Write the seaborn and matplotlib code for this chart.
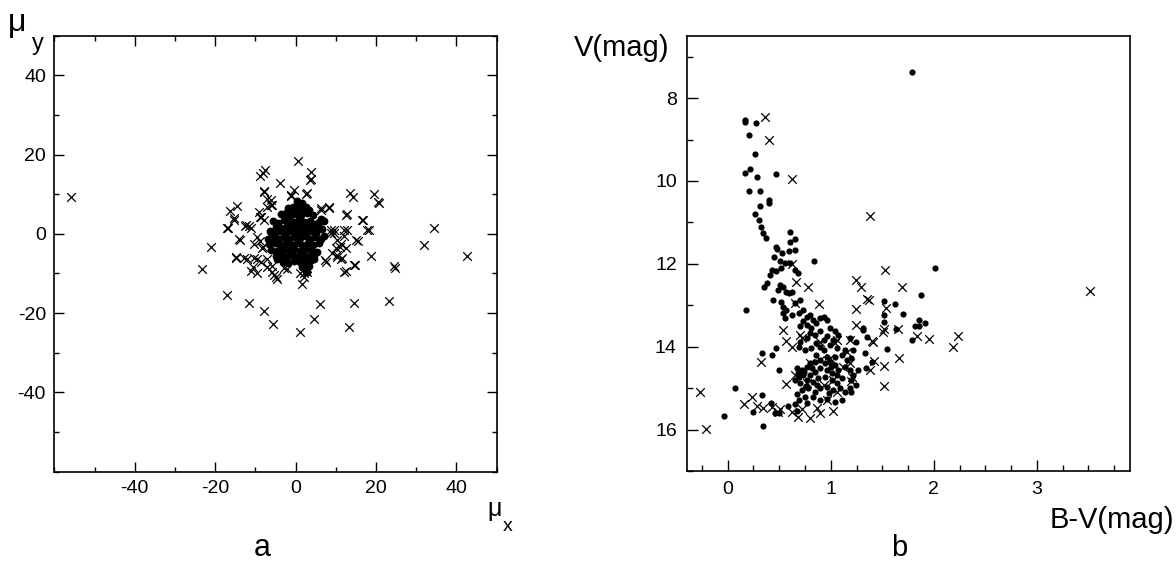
import numpy as np
import matplotlib
matplotlib.use('Agg')
import matplotlib.pyplot as plt
import seaborn as sns
from matplotlib.ticker import MultipleLocator

sns.set_style('ticks')
plt.rcParams['font.family'] = ['Liberation Sans', 'DejaVu Sans']
plt.rcParams['axes.unicode_minus'] = False
plt.rcParams['text.color'] = 'black'
plt.rcParams['xtick.color'] = 'black'
plt.rcParams['ytick.color'] = 'black'

# Panel a: proper motions (mu_x, mu_y), members (dots) and field stars (crosses)
a_dots = [
    (0.3, 8.2), (1.5, 7.9), (0.8, 7.5), (2.6, 6.8),
    (-1.8, 6.4), (-0.6, 6.9), (0.9, 6.2), (2.0, 6.5), (3.4, 6.0), (-1.0, 5.6),
    (-3.6, 4.9), (-2.4, 5.2), (-1.3, 4.6), (0.2, 5.0), (1.4, 4.8), (2.8, 5.3), (4.2, 4.7), (6.3, 3.8), (7.0, 3.3),
    (-5.6, 3.2), (-4.4, 2.8), (-3.0, 3.4), (-1.8, 2.7), (-0.5, 3.1), (0.8, 3.5), (2.1, 2.9), (3.5, 3.2), (4.8, 2.6), (5.9, 3.0),
    (-5.0, 1.8), (-3.7, 1.5), (-2.2, 2.0), (-0.9, 1.6), (0.5, 1.9), (1.8, 1.4), (3.0, 2.0), (4.3, 1.5), (5.6, 1.9), (6.5, 1.1),
    (-6.3, 0.6), (-5.2, 0.2), (-3.9, 0.7), (-2.5, 0.3), (-1.2, 0.8), (0.1, 0.2), (1.3, 0.6), (2.6, 0.1), (3.9, 0.7), (5.1, 0.3),
    (-6.8, -1.2), (-5.5, -0.8), (-4.2, -1.4), (-2.9, -0.9), (-1.6, -1.3), (-0.3, -0.7), (1.0, -1.1), (2.3, -0.6),
    (3.6, -1.3), (4.9, -0.9), (6.2, -1.4), (7.0, -0.5),
    (-6.5, -2.6), (-5.1, -2.2), (-3.8, -2.8), (-2.4, -2.3), (-1.0, -2.7), (0.4, -2.2), (1.7, -2.8), (3.1, -2.4), (4.4, -2.9), (5.8, -2.3),
    (-6.0, -4.0), (-4.6, -4.3), (-3.2, -3.8), (-1.8, -4.2), (-0.4, -3.9), (1.0, -4.4), (2.4, -3.8), (3.8, -4.1), (5.2, -4.5),
    (-4.9, -5.6), (-3.5, -5.3), (-2.1, -5.8), (-0.7, -5.4), (0.7, -5.9), (2.0, -5.5), (3.3, -5.7), (4.6, -5.4),
    (-3.2, -7.0), (-2.0, -7.3), (-0.5, -6.8), (1.2, -7.2), (2.5, -7.1), (3.8, -6.7), (4.6, -6.3),
    (1.5, -8.4), (2.6, -8.8), (3.3, -8.2), (2.9, -9.6), (6.6, 3.6), (-6.2, -1.9), (-4.7, -6.3),
]
a_cross = [
    (-55.8, 9.4), (-23.3, -8.8), (-21.1, -3.2), (-17.1, -15.4), (-17.1, 1.4), (-16.4, 5.7), (-14.6, 7.0),
    (-15.4, 3.9), (-13.9, -1.5), (-14.9, -6.1), (-14.7, -5.9), (-11.7, -17.4), (-12.5, 2.1), (-11.7, 2.1),
    (-12.1, -6.3), (-11.1, -9.5), (-10.4, -2.6), (-9.6, -6.3), (-8.9, 14.6), (-7.5, 16.0), (-7.9, -19.5),
    (-5.6, -22.8), (-9.2, 5.5), (-8.75, 4.2), (-7.9, 10.5), (-7.1, 8.7), (-6.1, 7.4), (-3.9, 12.8),
    (-8.9, -1.7), (-8.3, -3.5), (-7.1, -6.3), (-5.8, -8.1), (-5.25, -10.4), (-4.6, -11.3), (-2.25, -9.0),
    (-1.1, 9.6), (-0.4, 11.0), (0.7, 18.5), (3.75, 15.5), (3.9, 13.9), (2.5, 10.1), (1.1, -24.9),
    (1.7, -12.6), (2.1, -9.9), (2.9, -8.5), (4.6, -21.5), (6.1, -17.6), (6.25, 6.5), (8.3, 6.6),
    (8.75, 1.0), (9.6, 0.1), (10.0, -3.5), (7.5, -7.2), (10.4, -5.4), (11.25, -6.3), (12.5, -9.5),
    (11.25, -2.6), (12.5, -3.5), (12.9, 5.1), (12.1, 1.0), (13.6, 10.3), (14.2, 9.4), (13.3, -23.4),
    (14.6, -17.4), (14.75, -7.9), (15.4, -1.7), (16.7, 3.5), (18.2, 1.0), (18.75, -5.6), (19.4, 10.1),
    (20.8, 7.8), (23.1, -17.0), (24.4, -8.1), (24.6, -8.6), (31.9, -2.9), (34.3, 1.4), (42.5, -5.5),
    (-15.3, 3.5), (-16.9, 1.4), (-14.0, -1.4), (-12.4, 2.2), (-11.1, 1.6), (-12.8, -6.2), (-10.7, -8.3),
    (-10.3, -6.2), (-8.7, -7.1), (-8.2, -3.3), (-9.5, -0.7), (-8.7, 4.3), (-7.8, 3.5), (-7.0, 6.9),
    (-6.2, 8.6), (-5.8, 7.3), (-7.8, 10.7), (-8.2, 15.3), (-6.2, -0.7), (-7.0, -8.3), (-5.8, -9.6),
    (-5.0, -10.9), (-9.5, -10.0), (-2.9, -8.7), (1.2, -10.0), (2.1, -10.9), (2.9, -9.6), (-1.2, 9.8),
    (2.9, 10.3), (3.7, 13.6), (6.2, 6.0), (8.2, 6.9), (8.7, 0.1), (9.5, 1.0), (10.3, -1.6), (11.1, -3.3),
    (9.1, -4.9), (10.3, -5.8), (11.6, -6.2), (12.8, 1.0), (12.5, 4.8), (12.0, -0.5), (7.4, -6.6),
    (14.9, -1.6), (16.5, 3.5), (17.7, 1.0), (14.4, -7.9), (12.1, -9.6), (20.6, 8.1),
]

# Panel b: colour-magnitude diagram (B-V, V)
b_dots = [
    (1.79, 7.37),
    (0.17, 8.52), (0.17, 8.58), (0.27, 8.6), (0.21, 8.88), (0.26, 9.36), (0.17, 9.8), (0.22, 9.72), (0.28, 9.9),
    (0.47, 9.83), (0.21, 10.25), (0.31, 10.25), (0.40, 10.47), (0.40, 10.52), (0.31, 10.6), (0.26, 10.79),
    (0.30, 10.95), (0.32, 11.12), (0.34, 11.26), (0.37, 11.38), (0.60, 11.24), (0.60, 11.47), (0.65, 11.4),
    (0.65, 11.66), (0.59, 11.68), (0.47, 11.6), (0.48, 11.65), (0.53, 11.74), (0.45, 11.84),
    (0.51, 11.94), (0.56, 11.98), (0.60, 11.98), (0.52, 12.1), (0.43, 12.14), (0.47, 12.18), (0.41, 12.26),
    (0.65, 12.14), (0.68, 12.21), (0.84, 11.93),
    (0.38, 12.46), (0.35, 12.55), (0.51, 12.5), (0.54, 12.55), (0.49, 12.63), (0.57, 12.67), (0.62, 12.67),
    (0.59, 12.71), (0.44, 12.87), (0.52, 12.91), (0.54, 13.03), (0.57, 13.11), (0.65, 12.95), (0.70, 12.87),
    (0.18, 13.11),
    (0.54, 13.19), (0.56, 13.31), (0.62, 13.23), (0.69, 13.19), (0.73, 13.11), (0.77, 13.27), (0.80, 13.23),
    (0.83, 13.35), (0.73, 13.39), (0.70, 13.51), (0.77, 13.47), (0.81, 13.55), (0.86, 13.43), (0.90, 13.31),
    (0.93, 13.27), (0.96, 13.35), (0.99, 13.55), (1.04, 13.63), (0.90, 13.63), (0.85, 13.71), (0.80, 13.67),
    (0.77, 13.79), (0.70, 13.88), (0.69, 14.0), (0.75, 14.08), (0.81, 14.04), (0.86, 13.92), (0.93, 13.84),
    (0.96, 13.75), (0.90, 14.0), (0.99, 13.96), (1.025, 13.84), (1.07, 13.71), (1.06, 14.04), (0.93, 14.08),
    (0.86, 14.2), (0.96, 14.24), (1.04, 14.24), (1.11, 14.2), (1.155, 14.32), (1.19, 13.8), (1.24, 13.88),
    (1.14, 14.08),
    (0.67, 14.52), (0.72, 14.56), (0.77, 14.48), (0.80, 14.4), (0.85, 14.36), (0.90, 14.32), (0.94, 14.4),
    (0.99, 14.36), (1.04, 14.44), (1.07, 14.56), (1.06, 14.68), (1.01, 14.64), (0.96, 14.56), (0.90, 14.52),
    (0.85, 14.6), (0.80, 14.68), (0.73, 14.68), (0.69, 14.72), (0.65, 14.8), (0.70, 14.88), (0.77, 14.8),
    (0.83, 14.84), (0.88, 14.76), (0.94, 14.72), (1.01, 14.8), (1.06, 14.88), (1.11, 14.76), (1.14, 14.48),
    (1.19, 14.56), (1.22, 14.68), (1.20, 14.8), (1.24, 14.92), (1.19, 15.0), (1.14, 15.08), (1.09, 15.0),
    (1.025, 15.04), (0.96, 14.96), (0.90, 15.0), (0.85, 15.08), (0.78, 15.0), (0.72, 15.04), (0.67, 15.13),
    (0.69, 15.29), (0.75, 15.21), (0.83, 15.21), (0.90, 15.29), (0.96, 15.25), (1.04, 15.33), (1.11, 15.29),
    (1.20, 15.09), (1.26, 14.56), (1.20, 14.28),
    (0.33, 14.16), (0.43, 14.2), (0.47, 14.04), (0.50, 14.56),
    (0.07, 15.0), (-0.04, 15.67), (0.33, 15.17), (0.34, 15.9), (0.25, 15.57), (0.42, 15.35), (0.46, 15.6),
    (0.50, 15.6), (0.58, 15.42), (0.65, 15.39), (0.67, 15.56), (0.77, 15.35),
    (2.01, 12.09), (1.88, 12.75), (1.52, 12.89), (1.62, 12.97), (1.70, 13.2), (1.52, 13.23), (1.52, 13.4),
    (1.82, 13.49), (1.86, 13.5), (1.91, 13.43), (1.86, 13.35), (1.63, 13.58), (1.79, 13.84), (1.55, 14.06),
    (1.31, 13.55), (1.31, 13.6), (1.35, 13.77), (1.40, 14.36), (1.34, 14.52), (1.33, 14.16), (1.22, 14.08),
    (0.74, 14.6), (0.82, 14.52), (0.87, 14.92), (0.98, 15.12), (0.76, 14.95), (1.0, 14.5), (0.68, 14.64),
]
b_cross = [
    (0.36, 8.45), (0.40, 9.0), (0.62, 9.95), (1.38, 10.85), (3.51, 12.65),
    (0.62, 12.0), (0.66, 12.43), (0.78, 12.56), (0.89, 12.98), (0.65, 12.95), (0.54, 13.6), (0.57, 13.86),
    (0.72, 13.78), (0.32, 14.37), (0.57, 14.9), (1.24, 12.39), (1.29, 12.56), (1.24, 13.1), (1.24, 13.47),
    (1.37, 12.87), (1.35, 12.85), (1.38, 14.56), (1.42, 14.34), (1.19, 14.38), (1.21, 14.73), (1.20, 14.82),
    (1.52, 14.47), (1.52, 14.95), (1.66, 14.26), (1.69, 12.56), (1.53, 12.14), (1.54, 13.06), (1.52, 13.56),
    (1.51, 13.64), (1.65, 13.56), (1.84, 13.73), (1.95, 13.82), (2.19, 14.0), (2.23, 13.73), (1.40, 13.86),
    (1.41, 13.88), (1.19, 13.84), (1.155, 14.12), (1.12, 14.48),
    (0.62, 14.0), (0.70, 13.71), (0.90, 13.88), (1.06, 13.84), (1.04, 13.92), (0.99, 14.28), (0.90, 14.32),
    (0.80, 14.4), (0.65, 14.68), (0.77, 14.88), (0.93, 14.92), (1.025, 14.8), (1.06, 15.08), (0.96, 15.29),
    (1.02, 15.56), (0.90, 15.61), (0.80, 15.73), (0.87, 15.47), (0.72, 15.5), (0.68, 15.69), (0.62, 15.57),
    (0.51, 15.5), (0.49, 15.57), (0.43, 15.45), (0.16, 15.38), (0.24, 15.21), (0.28, 15.43), (0.34, 15.47),
    (-0.27, 15.08), (-0.21, 15.99),
]

a_xticks = [-40, -20, 0, 20, 40]
a_yticks = [-40, -20, 0, 20, 40]
b_xticks = [0, 1, 2, 3]
b_yticks = [8, 10, 12, 14, 16]

a_dots = np.array(a_dots)
a_cross = np.array(a_cross)
b_dots = np.array(b_dots)
b_cross = np.array(b_cross)

W, H = 1176, 563
fig = plt.figure(figsize=(W / 100, H / 100), dpi=100)

ax_a = fig.add_axes([54.3 / W, (H - 471.5) / H, 442.4 / W, 435.7 / H])
ax_b = fig.add_axes([686.5 / W, (H - 471.1) / H, 443.2 / W, 435.2 / H])

# panel a
sns.scatterplot(x=a_cross[:, 0], y=a_cross[:, 1], marker='x', color='black', s=38,
                linewidth=0.9, ax=ax_a, legend=False)
sns.scatterplot(x=a_dots[:, 0], y=a_dots[:, 1], marker='o', color='black', s=32,
                linewidth=0, ax=ax_a, legend=False)
ax_a.set_xlim(-60, 50)
ax_a.set_ylim(-60, 50)
ax_a.set_xticks(a_xticks)
ax_a.set_yticks(a_yticks)
ax_a.xaxis.set_minor_locator(MultipleLocator(10))
ax_a.yaxis.set_minor_locator(MultipleLocator(10))
ax_a.tick_params(which='both', direction='in', top=True, right=True, width=1.0, labelsize=14, pad=6)
ax_a.tick_params(which='major', length=7)
ax_a.tick_params(which='minor', length=3.5)

# panel b
sns.scatterplot(x=b_cross[:, 0], y=b_cross[:, 1], marker='x', color='black', s=38,
                linewidth=0.9, ax=ax_b, legend=False)
sns.scatterplot(x=b_dots[:, 0], y=b_dots[:, 1], marker='o', color='black', s=20,
                linewidth=0, ax=ax_b, legend=False)
ax_b.set_xlim(-0.4, 3.9)
ax_b.set_ylim(17, 6.5)
ax_b.set_xticks(b_xticks)
ax_b.set_yticks(b_yticks)
ax_b.xaxis.set_minor_locator(MultipleLocator(0.25))
ax_b.yaxis.set_minor_locator(MultipleLocator(1))
ax_b.tick_params(which='both', direction='in', top=False, right=False, width=1.0, labelsize=14, pad=7)
ax_b.tick_params(which='major', length=8)
ax_b.tick_params(which='minor', length=4)

for ax in (ax_a, ax_b):
    ax.set_xlabel('')
    ax.set_ylabel('')
    for sp in ax.spines.values():
        sp.set_visible(True)
        sp.set_linewidth(1.2)
        sp.set_color('black')


def px(x, y):
    return x / W, 1 - y / H


fig.text(*px(8, 31), 'μ', fontsize=23, ha='left', va='baseline')
fig.text(*px(32, 50), 'y', fontsize=17, ha='left', va='baseline')
fig.text(*px(487, 516), 'μ', fontsize=18, ha='left', va='baseline')
fig.text(*px(503, 531), 'x', fontsize=14, ha='left', va='baseline')
fig.text(*px(262, 556), 'a', fontsize=22, ha='center', va='baseline')
fig.text(*px(669, 48), 'V(mag)', fontsize=21, ha='right', va='center')
fig.text(*px(1174, 520), 'B-V(mag)', fontsize=21, ha='right', va='center')
fig.text(*px(899, 562), 'b', fontsize=21, ha='center', va='bottom')

fig.savefig('out.png', dpi=100)
